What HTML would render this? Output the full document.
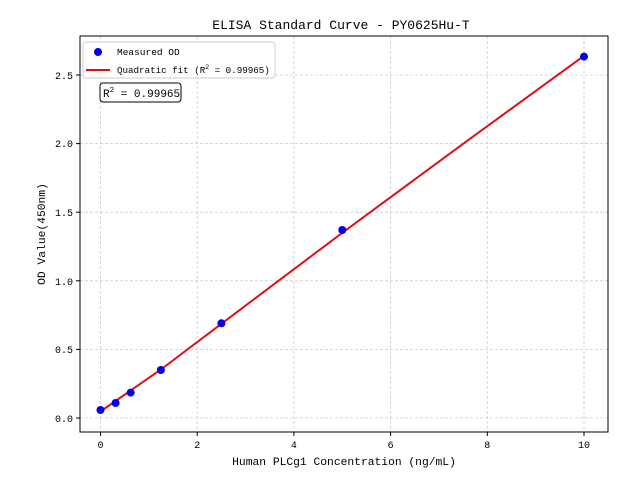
<!DOCTYPE html>
<html><head><style>body{margin:0;background:#fff}svg text{font-family:"Liberation Mono","WenQuanYi Zen Hei",monospace;fill:#000}</style></head><body>
<svg width="640" height="480" xmlns="http://www.w3.org/2000/svg">
<rect width="640" height="480" fill="#fff"/>
<g stroke="#ccc" stroke-dasharray="3,2" stroke-width="0.8">
<line x1="100.5" y1="36" x2="100.5" y2="432"/><line x1="197.2" y1="36" x2="197.2" y2="432"/><line x1="293.9" y1="36" x2="293.9" y2="432"/><line x1="390.6" y1="36" x2="390.6" y2="432"/><line x1="487.3" y1="36" x2="487.3" y2="432"/><line x1="584" y1="36" x2="584" y2="432"/>
<line x1="80" y1="418" x2="608" y2="418"/><line x1="80" y1="349.4" x2="608" y2="349.4"/><line x1="80" y1="280.8" x2="608" y2="280.8"/><line x1="80" y1="212.2" x2="608" y2="212.2"/><line x1="80" y1="143.6" x2="608" y2="143.6"/><line x1="80" y1="75" x2="608" y2="75"/>
</g>
<rect x="80" y="36" width="528" height="396" fill="none" stroke="#000" stroke-width="1"/>
<g stroke="#000"><line x1="100.5" y1="432" x2="100.5" y2="436"/><line x1="197.2" y1="432" x2="197.2" y2="436"/><line x1="293.9" y1="432" x2="293.9" y2="436"/><line x1="390.6" y1="432" x2="390.6" y2="436"/><line x1="487.3" y1="432" x2="487.3" y2="436"/><line x1="584" y1="432" x2="584" y2="436"/>
<line x1="76" y1="418" x2="80" y2="418"/><line x1="76" y1="349.4" x2="80" y2="349.4"/><line x1="76" y1="280.8" x2="80" y2="280.8"/><line x1="76" y1="212.2" x2="80" y2="212.2"/><line x1="76" y1="143.6" x2="80" y2="143.6"/><line x1="76" y1="75" x2="80" y2="75"/></g>
<g font-size="10" text-anchor="middle"><text x="100.5" y="448">0</text><text x="197.2" y="448">2</text><text x="293.9" y="448">4</text><text x="390.6" y="448">6</text><text x="487.3" y="448">8</text><text x="584" y="448">10</text></g>
<g font-size="10" text-anchor="end"><text x="73" y="422">0.0</text><text x="73" y="353">0.5</text><text x="73" y="285">1.0</text><text x="73" y="216">1.5</text><text x="73" y="147">2.0</text><text x="73" y="79">2.5</text></g>
<text x="344" y="465" font-size="11.3" text-anchor="middle">Human PLCg1 Concentration (ng/mL)</text>
<text x="0" y="0" font-size="11.3" text-anchor="middle" transform="translate(45,234) rotate(-90)">OD Value(450nm)</text>
<text x="341" y="29" font-size="13" text-anchor="middle">ELISA Standard Curve - PY0625Hu-T</text>
<polyline fill="none" stroke="#dd1111" stroke-width="2" points="100.5,411.5 160.9,369.5 221.4,323.8 342.3,232.8 463.1,143.8 584,55.8"/>
<g fill="#0000ee"><circle cx="100.5" cy="410" r="4"/><circle cx="115.6" cy="403" r="4"/><circle cx="130.7" cy="392.6" r="4"/><circle cx="160.9" cy="370" r="4"/><circle cx="221.4" cy="323.3" r="4"/><circle cx="342.3" cy="230" r="4"/><circle cx="584" cy="56.6" r="4"/></g>
<rect x="83" y="42" width="192" height="36" rx="3" fill="#fff" fill-opacity="0.85" stroke="#ccc"/>
<circle cx="98" cy="52" r="4" fill="#0000ee"/>
<text x="117" y="55" font-size="9.5">Measured OD</text>
<line x1="86" y1="70" x2="110" y2="70" stroke="#dd1111" stroke-width="2"/>
<text x="117" y="73" font-size="9.2">Quadratic fit (R<tspan font-size="6.5" dy="-4">2</tspan><tspan dy="4"> = 0.99965)</tspan></text>
<rect x="100" y="83" width="81" height="19" rx="3" fill="#fff" stroke="#000"/>
<text x="103" y="97" font-size="11">R<tspan font-size="7.5" dy="-5">2</tspan><tspan dy="5"> = 0.99965</tspan></text>
</svg>
</body></html>
